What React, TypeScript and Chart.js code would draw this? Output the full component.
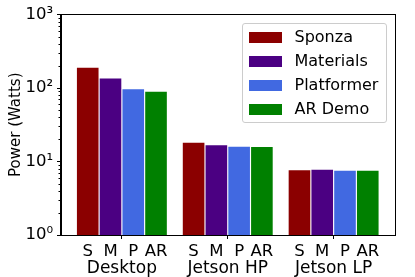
import React, { useEffect, useRef } from 'react';
import { Chart, registerables } from 'chart.js';

Chart.register(...registerables);

// ---- data ----
const groups = ['Desktop', 'Jetson HP', 'Jetson LP'];
const subLabels = ['S', 'M', 'P', 'AR'];
const seriesNames = ['Sponza', 'Materials', 'Platformer', 'AR Demo'];
const sponza = [189, 18.0, 7.6];
const materials = [135, 16.6, 7.7];
const platformer = [96, 15.9, 7.5];
const arDemo = [89, 15.7, 7.5];
const colors = ['#8b0000', '#4b0082', '#4169e1', '#008000'];
const yMajorTicks = [1, 10, 100, 1000];

const FONT = "'DejaVu Sans', sans-serif";
const CAT_PCT = 0.86;
const BAR_PCT = 0.95;
const X_MIN = -0.575;
const X_MAX = groups.length - 1 + 0.575;

const SUP: Record<string, string> = { '0': '⁰', '1': '¹', '2': '²', '3': '³', '4': '⁴' };

const isPow10 = (v: number) => Math.abs(Math.log10(v) - Math.round(Math.log10(v))) < 1e-9;

// sub tick positions (bar centres) and group centres
const subTickValues: number[] = [];
const subTickText: string[] = [];
groups.forEach((_, g) => {
  subTickValues.push(g);
  subTickText.push('');
});
groups.forEach((_, g) => {
  subLabels.forEach((lab, k) => {
    subTickValues.push(g + ((k - (subLabels.length - 1) / 2) * CAT_PCT) / subLabels.length);
    subTickText.push(lab);
  });
});

const framePlugin = {
  id: 'frameAndMinor',
  afterDraw(chart: any) {
    const { ctx, chartArea } = chart;
    const y = chart.scales.y;
    ctx.save();
    ctx.strokeStyle = '#000';
    ctx.lineWidth = 1;
    // minor ticks
    y.ticks.forEach((t: any) => {
      if (!isPow10(t.value)) {
        const py = Math.round(y.getPixelForValue(t.value)) + 0.5;
        ctx.beginPath();
        ctx.moveTo(chartArea.left - 2.5, py);
        ctx.lineTo(chartArea.left, py);
        ctx.stroke();
      }
    });
    const l = Math.round(chartArea.left) - 0.5;
    const t = Math.round(chartArea.top) - 0.5;
    const r = Math.round(chartArea.right) + 0.5;
    const b = Math.round(chartArea.bottom) + 0.5;
    ctx.strokeRect(l, t, r - l, b - t);
    ctx.restore();
  },
};

export default function App() {
  const ref = useRef<HTMLCanvasElement>(null);

  useEffect(() => {
    const series = [sponza, materials, platformer, arDemo];
    const chart = new Chart(ref.current!, {
      type: 'bar',
      data: {
        datasets: series.map((vals, i) => ({
          label: seriesNames[i],
          data: vals.map((v, g) => ({ x: g, y: v })),
          backgroundColor: colors[i],
          borderWidth: 0,
          xAxisID: 'xg',
          yAxisID: 'y',
          categoryPercentage: CAT_PCT,
          barPercentage: BAR_PCT,
        })),
      },
      options: {
        animation: false,
        responsive: true,
        maintainAspectRatio: false,
        layout: { padding: { top: 14.5, right: 20.5, bottom: 0, left: 0 } },
        plugins: { legend: { display: false }, tooltip: { enabled: false } },
        scales: {
          xs: {
            type: 'linear',
            position: 'bottom',
            weight: 0,
            min: X_MIN,
            max: X_MAX,
            offset: false,
            bounds: 'data',
            afterBuildTicks: (s: any) => {
              s.ticks = subTickValues.map((v) => ({ value: v }));
            },
            afterFit: (s: any) => {
              s.height = 23;
            },
            ticks: {
              autoSkip: false,
              maxRotation: 0,
              minRotation: 0,
              padding: 2.5,
              color: '#000',
              font: { family: FONT, size: 16.5 },
              callback: (_v: any, i: number) => subTickText[i],
            },
            grid: {
              drawOnChartArea: false,
              drawTicks: true,
              tickLength: 4,
              offset: false,
              tickColor: (ctx: any) => (ctx.index < groups.length ? '#000' : 'rgba(0,0,0,0)'),
            },
            border: { display: true, color: '#000' },
          },
          xg: {
            type: 'linear',
            position: 'bottom',
            weight: 1,
            min: X_MIN,
            max: X_MAX,
            offset: false,
            bounds: 'data',
            afterBuildTicks: (s: any) => {
              s.ticks = groups.map((_, g) => ({ value: g }));
            },
            afterFit: (s: any) => {
              s.height = 19;
            },
            ticks: {
              autoSkip: false,
              maxRotation: 0,
              minRotation: 0,
              padding: 0,
              color: '#000',
              font: { family: FONT, size: 17 },
              callback: (_v: any, i: number) => groups[i],
            },
            grid: { drawOnChartArea: false, drawTicks: false, offset: false },
            border: { display: false },
          },
          y: {
            type: 'logarithmic',
            position: 'left',
            min: 1,
            max: 1000,
            afterBuildTicks: (s: any) => {
              const ticks: any[] = [];
              for (let d = 0; d < yMajorTicks.length - 1; d++) {
                for (let m = 1; m < 10; m++) ticks.push({ value: yMajorTicks[d] * m, major: m === 1 });
              }
              ticks.push({ value: yMajorTicks[yMajorTicks.length - 1], major: true });
              s.ticks = ticks;
            },
            afterFit: (s: any) => {
              s.width = 61;
            },
            ticks: {
              autoSkip: false,
              padding: 4,
              color: '#000',
              font: { family: FONT, size: 16.5 },
              callback: (v: any) => {
                const n = Number(v);
                if (!yMajorTicks.includes(n)) return '';
                const e = String(Math.round(Math.log10(n)));
                return '10' + e.split('').map((c) => SUP[c]).join('');
              },
            },
            grid: {
              drawOnChartArea: false,
              drawTicks: true,
              tickLength: 4,
              tickColor: (ctx: any) =>
                ctx.tick && yMajorTicks.includes(ctx.tick.value) ? '#000' : 'rgba(0,0,0,0)',
            },
            border: { display: true, color: '#000' },
            title: {
              display: true,
              text: 'Power (Watts)',
              color: '#000',
              font: { family: FONT, size: 15 },
              padding: { top: 7, bottom: 0 },
            },
          },
        },
      } as any,
      plugins: [framePlugin],
    });
    return () => chart.destroy();
  }, []);

  return (
    <div style={{ position: 'fixed', left: 0, top: 0, width: 415, height: 277, background: '#fff' }}>
      <canvas ref={ref} width={415} height={277} />
      <div
        style={{
          position: 'absolute',
          left: 241.5,
          top: 22.5,
          width: 145,
          height: 100,
          boxSizing: 'border-box',
          border: '1px solid #cccccc',
          borderRadius: 3,
          background: 'rgba(255,255,255,0.8)',
          fontFamily: FONT,
          fontSize: 16,
          color: '#000',
        }}
      >
        {seriesNames.map((name, i) => (
          <div
            key={name}
            style={{
              position: 'absolute',
              left: 0,
              top: 1.5 + 24 * i,
              height: 24,
              display: 'flex',
              alignItems: 'center',
              whiteSpace: 'nowrap',
            }}
          >
            <span style={{ display: 'inline-block', marginLeft: 6, width: 33, height: 11, background: colors[i] }} />
            <span style={{ marginLeft: 13, lineHeight: '24px' }}>{name}</span>
          </div>
        ))}
      </div>
    </div>
  );
}
